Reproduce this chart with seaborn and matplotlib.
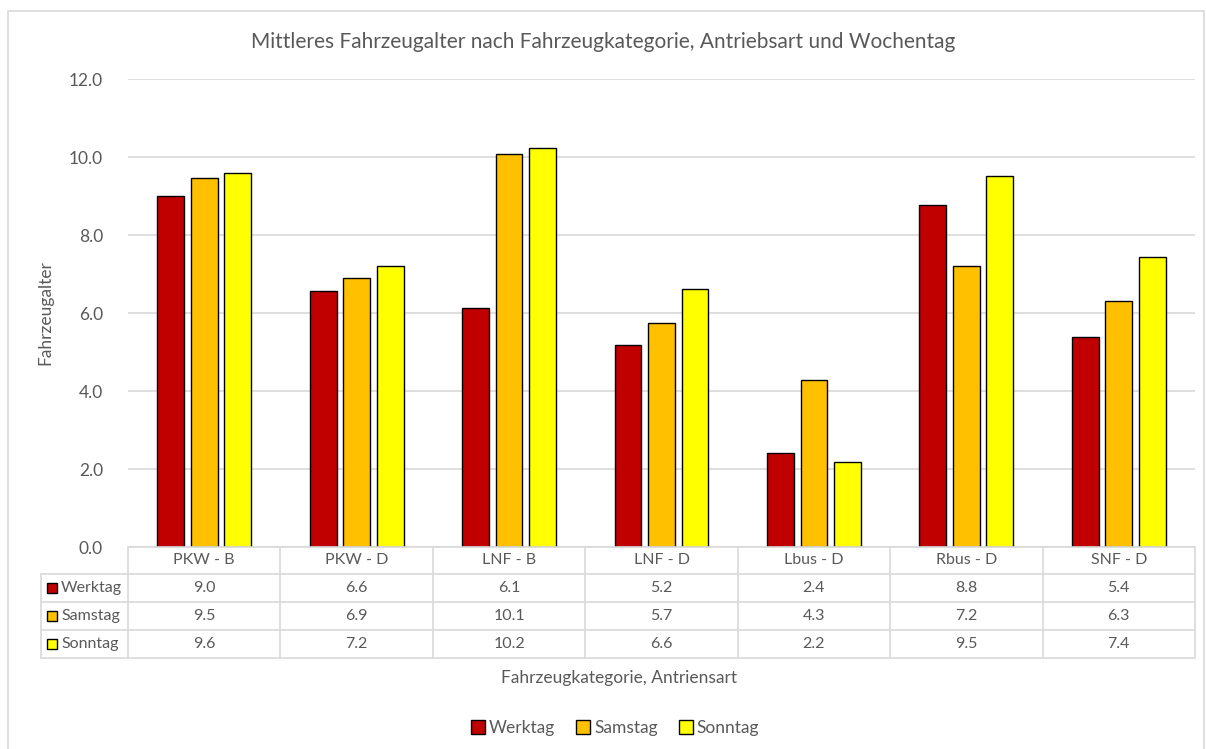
import pandas as pd
import seaborn as sns
import matplotlib.pyplot as plt
from matplotlib.lines import Line2D
from matplotlib.patches import Rectangle

# Daten
kategorien = ["PKW - B", "PKW - D", "LNF - B", "LNF - D", "Lbus - D", "Rbus - D", "SNF - D"]
tage = ["Werktag", "Samstag", "Sonntag"]
werktag = [9.01, 6.57, 6.12, 5.19, 2.42, 8.77, 5.38]
samstag = [9.46, 6.91, 10.08, 5.74, 4.28, 7.21, 6.31]
sonntag = [9.59, 7.21, 10.22, 6.62, 2.19, 9.52, 7.44]
farben = ["#C00000", "#FFC000", "#FFFF00"]

werte = {"Werktag": werktag, "Samstag": samstag, "Sonntag": sonntag}
df = pd.DataFrame([(k, t, werte[t][i]) for t in tage for i, k in enumerate(kategorien)],
                  columns=["kategorie", "tag", "alter"])

sns.set_theme(style="white")
plt.rcParams['font.family'] = ['Lato', 'DejaVu Sans']
grau = "#595959"
linie = "#d9d9d9"

W, H = 1206, 749
fig = plt.figure(figsize=(W / 100, H / 100), dpi=100)

def fx(x):
    return x / W

def fy(y):
    return 1 - y / H

# Plotbereich in Pixeln
x0, x1, y0, y1 = 128, 1195, 79, 547
ax = fig.add_axes([fx(x0), fy(y1), fx(x1) - fx(x0), fy(y0) - fy(y1)])

sns.barplot(data=df, x="kategorie", y="alter", hue="tag", palette=farben, saturation=1,
            width=0.66, gap=0.2, edgecolor="black", linewidth=1,
            errorbar=None, ax=ax)
ax.get_legend().remove()

ax.set_xlim(-0.5, len(kategorien) - 0.5)
ax.set_ylim(0, 12)
ax.set_yticks(range(0, 13, 2))
ax.set_yticklabels([f"{v:.1f}" for v in range(0, 13, 2)], color=grau, fontsize=12.5)
ax.tick_params(axis="y", length=0, pad=18)
ax.set_xticks([])
ax.set_xlabel("")
ax.set_ylabel("")
ax.yaxis.grid(True, color=linie, linewidth=1.2)
ax.set_axisbelow(True)
for s in ax.spines.values():
    s.set_visible(False)

# Rahmen
fig.add_artist(Rectangle((fx(7.5), fy(760)), fx(1204) - fx(7.5), fy(10.5) - fy(760),
                         transform=fig.transFigure, fill=False, edgecolor=linie, linewidth=1.2))

# Titel und Achsentitel
fig.text(fx(603), fy(42), "Mittleres Fahrzeugalter nach Fahrzeugkategorie, Antriebsart und Wochentag",
         ha="center", va="center", color=grau, fontsize=15)
fig.text(fx(45), fy(313), "Fahrzeugalter", rotation=90, ha="center", va="center",
         color=grau, fontsize=12.5)
fig.text(fx(619), fy(678), "Fahrzeugkategorie, Antriensart", ha="center", va="center",
         color=grau, fontsize=12.5)

# Datentabelle
tab_left = 41
rows = [547, 574, 602, 630, 658]
colw = (x1 - x0) / len(kategorien)

def hline(y, xa, xb):
    fig.add_artist(Line2D([fx(xa), fx(xb)], [fy(y), fy(y)], color=linie, linewidth=1.2))

def vline(x, ya, yb):
    fig.add_artist(Line2D([fx(x), fx(x)], [fy(ya), fy(yb)], color=linie, linewidth=1.2))

hline(rows[0], x0, x1)
for y in rows[1:]:
    hline(y, tab_left, x1)
for i in range(len(kategorien) + 1):
    vline(x0 + i * colw, rows[0], rows[-1])
vline(tab_left, rows[1], rows[-1])

for i, k in enumerate(kategorien):
    cx = x0 + (i + 0.5) * colw
    fig.text(fx(cx), fy((rows[0] + rows[1]) / 2), k, ha="center", va="center",
             color=grau, fontsize=11.5)
    for j, t in enumerate(tage):
        fig.text(fx(cx), fy((rows[j + 1] + rows[j + 2]) / 2), f"{werte[t][i]:.1f}",
                 ha="center", va="center", color=grau, fontsize=11.5)

for j, t in enumerate(tage):
    yc = (rows[j + 1] + rows[j + 2]) / 2
    fig.add_artist(Rectangle((fx(47), fy(yc + 5)), fx(10), 10 / H, transform=fig.transFigure,
                             facecolor=farben[j], edgecolor="black", linewidth=1))
    fig.text(fx(61), fy(yc), t, ha="left", va="center", color=grau, fontsize=11.5)

# Legende
handles = [Rectangle((0, 0), 1, 1, facecolor=c, edgecolor="black", linewidth=1) for c in farben]
fig.legend(handles, tage, loc="center", bbox_to_anchor=(fx(615), fy(728)), ncol=3,
           frameon=False, fontsize=12.5, labelcolor=grau, handlelength=0.8, handleheight=0.8,
           handletextpad=0.25, columnspacing=1.2)

fig.savefig("out.png", dpi=100)
